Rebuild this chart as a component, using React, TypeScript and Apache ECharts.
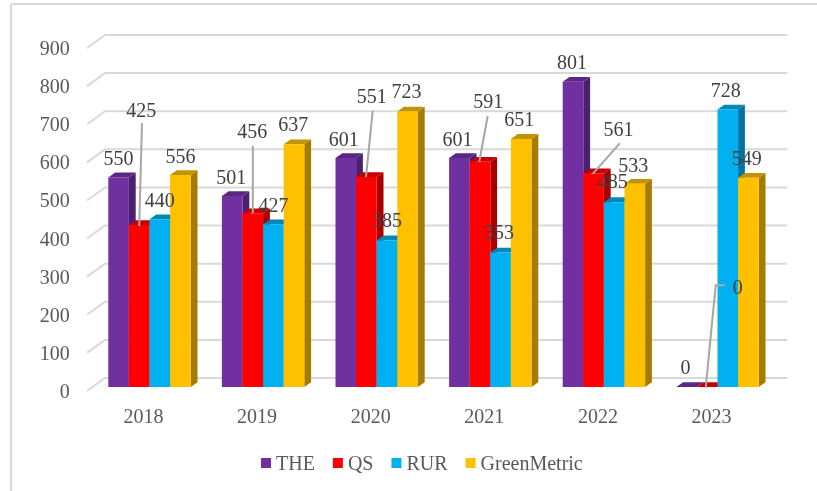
import React, { useEffect, useRef } from "react";
import * as echarts from "echarts";

const years = ["2018", "2019", "2020", "2021", "2022", "2023"];
const theValues = [550, 501, 601, 601, 801, 0];
const qsValues = [425, 456, 551, 591, 561, 0];
const rurValues = [440, 427, 385, 353, 485, 728];
const greenMetricValues = [556, 637, 723, 651, 533, 549];
const yTicks = [0, 100, 200, 300, 400, 500, 600, 700, 800, 900];

// Label placement relative to the top centre of each bar
const theOffsets = [[0, -19.3], [-1, -19.3], [-2, -19.3], [-2, -19.3], [-1, -19.3], [-1, -20.3]];
const qsOffsets = [[2, -115.3], [-0.5, -81.9], [5.3, -81.3], [8.3, -60.3], [25, -44.3], [30.5, -100.3]];
const rurOffsets = [[0, -19.7], [0, -19.6], [0, -20.3], [-1.6, -20.3], [-1.5, -20.8], [-2, -19.3]];
const gmOffsets = [[0, -19.3], [-0.7, -20.3], [-1, -20.3], [-2, -20.3], [-1.5, -19.3], [-1.7, -20]];
// Leader lines relative to the top centre of each QS bar
const qsLeaders = [
  [[2.8, -101.8], [0, 1]],
  [[0, -67.3], [0, 0]],
  [[6.3, -66.4], [-0.4, 0]],
  [[7.7, -45.8], [-0.7, 0]],
  [[26.4, -30], [-0.9, 0.7]],
  [[17.8, -101.7], [8.5, -101.7], [-1.5, 1]],
];

const BAR_W = 20.6;
const DX = 6.8;
const DY = 4.8;
const BASE_SHIFT = 4;

const providers = [
  { name: "THE", values: theValues, offsets: theOffsets, front: "#7030A0", side: "#4B2070", top: "#5A2785" },
  { name: "QS", values: qsValues, offsets: qsOffsets, front: "#FF0000", side: "#A80000", top: "#C80000" },
  { name: "RUR", values: rurValues, offsets: rurOffsets, front: "#00B0F0", side: "#0073A0", top: "#0088B9" },
  { name: "GreenMetric", values: greenMetricValues, offsets: gmOffsets, front: "#FFC000", side: "#A67C00", top: "#C29300" },
];

const FONT = '"Liberation Serif", "Times New Roman", serif';

function barSeries(p: (typeof providers)[number], si: number) {
  return {
    type: "custom",
    name: p.name,
    z: 3 + si,
    itemStyle: { color: p.front },
    encode: { x: 0, y: 1 },
    data: p.values.map((v, i) => [i, v]),
    renderItem: (_: any, api: any) => {
      const [cx, yRaw] = api.coord([api.value(0), api.value(1)]);
      const [, bRaw] = api.coord([api.value(0), 0]);
      const x0 = cx + (si - 2) * BAR_W;
      const x1 = x0 + BAR_W;
      const y = yRaw - BASE_SHIFT;
      const b = bRaw - BASE_SHIFT;
      return {
        type: "group",
        children: [
          {
            type: "polygon",
            shape: { points: [[x1, y], [x1 + DX, y - DY], [x1 + DX, b - DY], [x1, b]] },
            style: { fill: p.side },
          },
          {
            type: "polygon",
            shape: { points: [[x0, y], [x0 + DX, y - DY], [x1 + DX, y - DY], [x1, y]] },
            style: { fill: p.top },
          },
          { type: "rect", shape: { x: x0, y, width: BAR_W, height: b - y }, style: { fill: p.front } },
        ],
      };
    },
  };
}

function labelSeries(p: (typeof providers)[number], si: number) {
  return {
    type: "custom",
    name: p.name + " labels",
    z: 20,
    encode: { x: 0, y: 1 },
    data: p.values.map((v, i) => [i, v]),
    renderItem: (_: any, api: any) => {
      const idx = api.value(0);
      const [cx, yRaw] = api.coord([idx, api.value(1)]);
      const mx = cx + (si - 1.5) * BAR_W;
      const my = yRaw - BASE_SHIFT;
      const off = p.offsets[idx];
      const children: any[] = [];
      if (si === 1) {
        children.push({
          type: "polyline",
          shape: { points: qsLeaders[idx].map(([a, b]) => [mx + a, my + b]) },
          style: { stroke: "#A6A6A6", lineWidth: 2, fill: "none" },
        });
      }
      children.push({
        type: "text",
        style: {
          text: String(api.value(1)),
          x: mx + off[0],
          y: my + off[1],
          align: "center",
          verticalAlign: "middle",
          font: `20px ${FONT}`,
          fill: "#404040",
        },
      });
      return { type: "group", children };
    },
  };
}

export default function App() {
  const ref = useRef<HTMLDivElement>(null);
  useEffect(() => {
    const chart = echarts.init(ref.current!, undefined, { renderer: "svg" });
    chart.setOption({
      animation: false,
      backgroundColor: "#ffffff",
      textStyle: { fontFamily: FONT },
      grid: { left: 92.7, right: 42.7, top: 48, bottom: 100, containLabel: false },
      xAxis: {
        type: "category",
        data: years,
        axisLine: { show: false },
        axisTick: { show: false },
        axisLabel: { color: "#595959", fontSize: 20, fontFamily: FONT, margin: 15, padding: [0, 12, 0, 0] },
      },
      yAxis: {
        type: "value",
        min: 0,
        max: 900,
        interval: 100,
        splitLine: { show: false },
        axisLine: { show: false },
        axisTick: { show: false },
        axisLabel: { color: "#595959", fontSize: 20, fontFamily: FONT, margin: 23, padding: [6, 0, 0, 0] },
      },
      legend: {
        left: 256,
        top: 448,
        icon: "rect",
        itemWidth: 10,
        itemHeight: 10,
        itemGap: 18,
        itemTextGap: 5,
        selectedMode: false,
        data: providers.map((p) => p.name),
        textStyle: { color: "#595959", fontSize: 20, fontFamily: FONT },
      },
      graphic: [
        { type: "line", shape: { x1: 11, y1: 4, x2: 817, y2: 4 }, style: { stroke: "#D9D9D9", lineWidth: 2 } },
        { type: "line", shape: { x1: 11, y1: 4, x2: 11, y2: 491 }, style: { stroke: "#D9D9D9", lineWidth: 2 } },
      ],
      series: [
        {
          type: "custom",
          name: "grid",
          z: 1,
          silent: true,
          encode: { x: 0, y: 1 },
          data: yTicks.map((t) => [0, t]),
          renderItem: (params: any, api: any) => {
            const [, y] = api.coord([0, api.value(1)]);
            const left = params.coordSys.x;
            const right = left + params.coordSys.width;
            return {
              type: "polyline",
              shape: { points: [[left - 5.7, y], [left + 12.3, y - 13], [right + 13, y - 13]] },
              style: { stroke: "#D9D9D9", lineWidth: 2, fill: "none" },
            };
          },
        },
        ...providers.map(barSeries),
        ...providers.map(labelSeries),
      ],
    });
    return () => chart.dispose();
  }, []);
  return <div ref={ref} style={{ position: "fixed", left: 0, top: 0, width: 817, height: 491, filter: "blur(0.4px)" }} />;
}
